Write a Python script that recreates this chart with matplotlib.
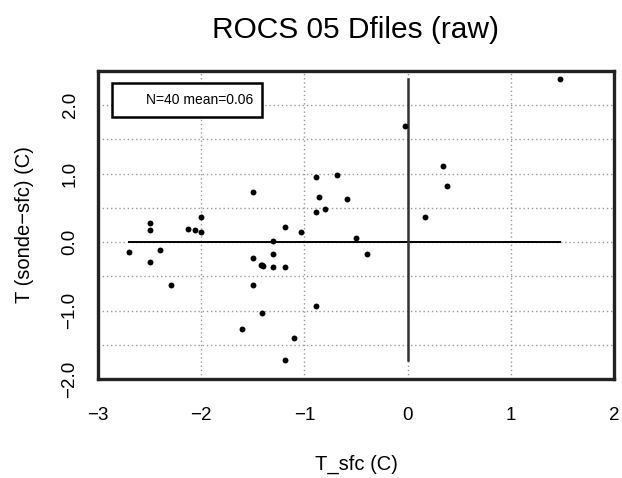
import matplotlib
matplotlib.use("Agg")
import matplotlib.pyplot as plt
from matplotlib.patches import Rectangle
import numpy as np

plt.rcParams['font.family'] = ['Liberation Sans', 'DejaVu Sans']

t_sfc = [-2.695, -2.50, -2.50, -2.40, -2.13, -2.06, -2.00, -2.00, -1.495, -1.19,
         -1.036, -1.30, -0.89, -0.683, -0.858, -0.592, -0.803, -0.89, -0.502,
         1.479, -0.023, 0.346, 0.381, 0.168, -0.395,
         -2.50, -2.29, -1.495, -1.408, -1.42, -1.40, -1.30, -1.30, -1.19, -1.495,
         -0.89, -1.408, -1.602, -1.104, -1.19]
t_diff = [-0.146, 0.278, 0.17, -0.12, 0.195, 0.17, 0.146, 0.36, 0.73, 0.224,
          0.146, 0.01, 0.946, 0.975, 0.653, 0.624, 0.488, 0.44, 0.067,
          2.39, 1.69, 1.107, 0.814, 0.36, -0.176,
          -0.284, -0.63, -0.23, -0.34, -0.33, -0.35, -0.176, -0.366, -0.366, -0.63,
          -0.928, -1.03, -1.274, -1.406, -1.728]

x_ticks = [-3, -2, -1, 0, 1, 2]
x_tick_labels = ['\u22123', '\u22122', '\u22121', '0', '1', '2']
y_ticks = [-2.0, -1.0, 0.0, 1.0, 2.0]
y_tick_labels = ['\u22122.0', '\u22121.0', '0.0', '1.0', '2.0']
x_grid = [-2, -1, 0, 1]
y_grid = [-1.5, -1.0, -0.5, 0.0, 0.5, 1.0, 1.5, 2.0]

title = "ROCS 05 Dfiles (raw)"
xlabel = "T_sfc (C)"
ylabel = "T (sonde\u2212sfc) (C)"
stats_text = "N=40 mean=0.06"

fig = plt.figure(figsize=(6.22, 4.78), dpi=100)
ax = fig.add_axes([98/622, 1-379/478, (614-98)/622, (379-71)/478])
ax.set_xlim(-3, 2)
ax.set_ylim(-2.0, 2.5)

for xg in x_grid:
    ax.axvline(xg, color='#999999', lw=1.0, ls=(0, (1, 2)), zorder=1)
for yg in y_grid:
    ax.axhline(yg, color='#999999', lw=1.0, ls=(0, (1, 2)), zorder=1)

xs = np.array(t_sfc)
ys = np.array(t_diff)
ax.plot([xs.min(), xs.max()], [0, 0], color='black', lw=1.4, zorder=2)
ax.plot([0, 0], [ys.min(), ys.max()], color='#333333', lw=1.8, zorder=2)

ax.scatter(xs, ys, s=18, color='black', zorder=3, linewidths=0)

ax.set_xticks(x_ticks)
ax.set_xticklabels(x_tick_labels)
ax.set_yticks(y_ticks)
ax.set_yticklabels(y_tick_labels, rotation=90, va='center')
ax.tick_params(axis='both', length=0, labelsize=13.5)
ax.tick_params(axis='x', pad=20)
ax.tick_params(axis='y', pad=14)
for s in ax.spines.values():
    s.set_linewidth(2.4)
    s.set_color('#222222')

ax.set_xlabel(xlabel, fontsize=14.5, labelpad=22)
ax.set_ylabel(ylabel, fontsize=14.5, labelpad=20)
ax.set_title(title, fontsize=21.5, pad=24)

ax.add_patch(Rectangle((-2.861, 1.835), 1.446, 0.483, fc='white', ec='black',
                       lw=1.8, zorder=5))
ax.text(-1.50, 2.076, stats_text, fontsize=10, ha='right', va='center', zorder=6)

fig.savefig("out.png", dpi=100)
